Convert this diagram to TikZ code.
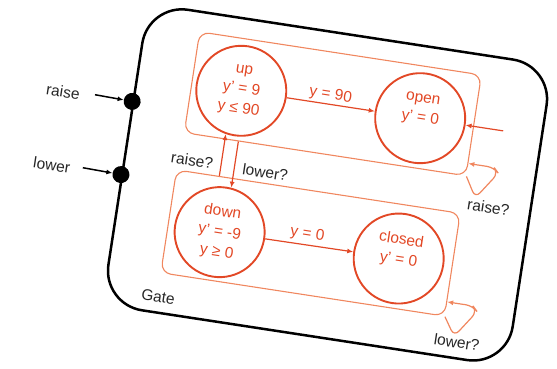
\documentclass[tikz,border=0pt]{standalone}
\usepackage{fontspec}
\setmainfont{Liberation Sans}
\usetikzlibrary{arrows.meta}
\definecolor{rojizo}{RGB}{226,72,38}
\definecolor{naranja}{RGB}{240,135,95}

\begin{document}
\begin{tikzpicture}[x=1pt,y=1pt,
    estado/.style={circle,draw=rojizo,line width=1.9pt,minimum size=90pt,inner sep=0pt,
      text=rojizo,align=center,font=\fontsize{15.5}{20}\selectfont},
    caja/.style={draw=naranja,line width=1.1pt,rounded corners=10pt,inner sep=0pt},
    flecha/.style={draw=rojizo,line width=1.2pt,-{Latex[length=6pt,width=5pt]}},
    lazo/.style={draw=naranja,line width=1.2pt,rounded corners=7pt,-{Latex[length=6pt,width=5pt,fill=rojizo]}},
    flechanegra/.style={line width=1.5pt,-{Latex[length=6pt,width=5pt]}},
    puerto/.style={circle,fill=black,minimum size=17pt,inner sep=0pt},
    etiqueta/.style={font=\fontsize{15.5}{17}\selectfont,text=black!85},
    guarda/.style={font=\fontsize{15.5}{17}\selectfont,text=rojizo}]

    \useasboundingbox (-328,-184) rectangle (229,185);

    \begin{scope}[rotate=-8.7,transform shape]
        % Gate
        \node[draw,line width=2.5pt,rounded corners=40pt,minimum width=409pt,minimum height=304pt] (gate) at (-0.5,0) {};
        \node[etiqueta] (nombre) at (-151,-136) {Gate};

        % puertos
        \node[puerto] (pRaise) at (gate.west |- 0,53) {};
        \node[puerto] (pLower) at (gate.west |- 0,-21) {};
        \node[etiqueta] (lRaise) at (-276,52) {raise};
        \node[etiqueta] (lLower) at (-276,-22) {lower};
        \coordinate (inRaise) at (-244,54);
        \coordinate (inLower) at (-245,-20);
        \draw[flechanegra] (inRaise) -- (pRaise);
        \draw[flechanegra] (inLower) -- (pLower);

        % cajas
        \node[caja,minimum width=285pt,minimum height=102pt] (cajaA) at (-7.5,81) {};
        \node[caja,minimum width=287pt,minimum height=104pt] (cajaB) at (-8.5,-60) {};

        % estados
        \node[estado] (up) at (-100,80) {up\\y' = 9\\y ≤ 90};
        \node[estado] (open) at (81,80) {open\\y' = 0\\\phantom{0}};
        \node[estado] (down) at (-100,-63) {down\\y' = -9\\y ≥ 0};
        \node[estado] (closed) at (81,-62) {closed\\y' = 0\\\phantom{0}};

        \draw[flecha] (up) -- (open);
        \node[guarda] (g90) at (-11,89) {y = 90};
        \draw[flecha] (down) -- (closed);
        \node[guarda] (g0) at (-13,-52) {y = 0};

        \coordinate (entrada) at (165,80);
        \draw[flecha] (entrada) -- (open);

        % entre cajas
        \draw[flecha] (up.-101 |- cajaB.north) -- (up.-101);
        \draw[flecha] (down.84 |- cajaA.south) -- (down.84);
        \node[etiqueta] (eRaise) at (-138,4) {raise?};
        \node[etiqueta] (eLower) at (-64,3) {lower?};

        % lazos
        \draw[lazo] (cajaA.south east) -- ++(12,-20) -- ++(19,28) -- ++(-5,5) -- ++(-26,0);
        \node[etiqueta] (eLazoA) at (162,2) {raise?};
        \draw[lazo] (cajaB.south east) -- ++(12,-18) -- ++(19,28) -- ++(-5,5) -- ++(-26,0);
        \node[etiqueta] (eLazoB) at (151,-136) {lower?};
    \end{scope}
\end{tikzpicture}
\end{document}
